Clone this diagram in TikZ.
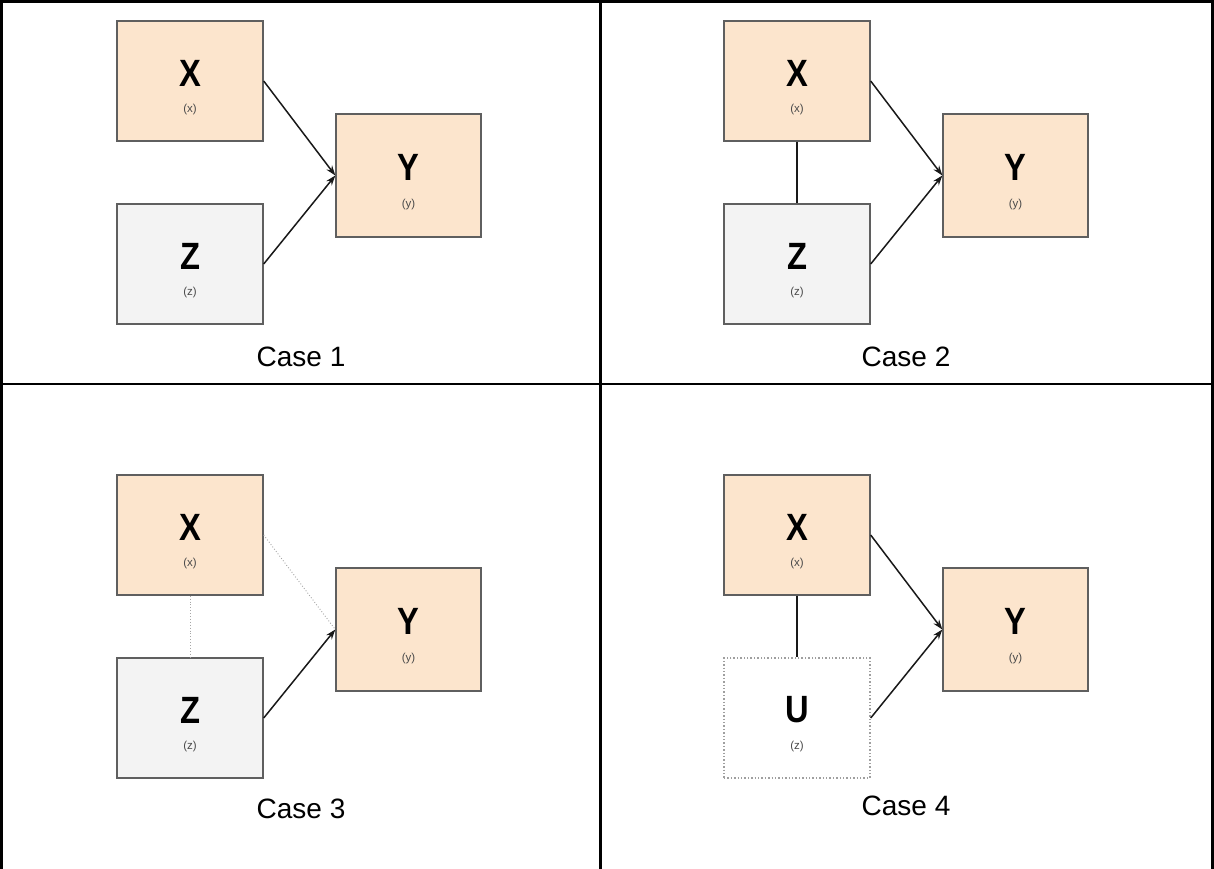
\documentclass[tikz,border=0pt]{standalone}
\usepackage{fontspec}
\setmainfont{Liberation Sans}
\newfontfamily\medfont[FakeStretch=0.86]{Liberation Sans}
\usetikzlibrary{arrows.meta}
\definecolor{peachfill}{HTML}{FCE5CD}
\definecolor{zfill}{HTML}{F3F3F3}
\definecolor{boxborder}{HTML}{5F5F5F}
\definecolor{labelgray}{HTML}{4A4A4A}
\begin{document}
\begin{tikzpicture}[x=1pt,y=-1pt,
  box/.style={draw=boxborder,line width=1.4pt,minimum width=146pt,minimum height=120pt,inner sep=0pt},
  pbox/.style={box,fill=peachfill},
  gbox/.style={box,fill=zfill},
  ubox/.style={box,draw=boxborder!60,dotted,fill=white},
  ybox/.style={pbox,minimum width=145pt,minimum height=123pt},
  big/.style={font=\medfont\bfseries\fontsize{38}{42}\selectfont,inner sep=0pt},
  small/.style={font=\fontsize{11.5}{12}\selectfont,text=labelgray,inner sep=0pt},
  caselabel/.style={font=\fontsize{28}{32}\selectfont,inner sep=0pt},
  arr/.style={-{Stealth[length=10pt,width=7pt]},line width=1.5pt,black!90},
  link/.style={line width=1.5pt,black!90},
  dotlink/.style={line width=0.9pt,gray!70,dotted},
  grid/.style={line width=3pt,black}
]
\useasboundingbox (0,0) rectangle (1214,869);
\fill[white] (0,0) rectangle (1214,869);

% grid
\coordinate (tl) at (0,1.5);
\coordinate (tr) at (1214,1.5);
\coordinate (ml) at (0,384);
\coordinate (mr) at (1214,384);
\coordinate (lt) at (1.5,0);
\coordinate (lb) at (1.5,869);
\coordinate (ct) at (600.5,0);
\coordinate (cb) at (600.5,869);
\coordinate (rt) at (1212.5,0);
\coordinate (rb) at (1212.5,869);
\draw[grid] (tl) -- (tr);
\draw[grid,line width=2.5pt] (ml) -- (mr);
\draw[grid] (lt) -- (lb);
\draw[grid] (ct) -- (cb);
\draw[grid] (rt) -- (rb);

% Case 1
\begin{scope}[shift={(0,0)}]
\node[pbox] (x1) at (190,81) {};
\node[ybox] (y1) at (408.5,175.5) {};
\node[gbox] (z1) at (190,264) {};
\node[big] (x1t) at (190,73) {X};
\node[small] (x1s) at (190,110) {(x)};
\node[big] (y1t) at (408.5,167) {Y};
\node[small] (y1s) at (408.5,205) {(y)};
\node[big] (z1t) at (190,256) {Z};
\node[small] (z1s) at (190,293) {(z)};
\draw[arr] (x1.east) -- (y1.west);
\draw[arr] (z1.east) -- (y1.west);
\node[caselabel] (c1) at (301,357) {Case 1};
\end{scope}

% Case 2
\begin{scope}[shift={(607,0)}]
\node[pbox] (x2) at (190,81) {};
\node[ybox] (y2) at (408.5,175.5) {};
\node[gbox] (z2) at (190,264) {};
\node[big] (x2t) at (190,73) {X};
\node[small] (x2s) at (190,110) {(x)};
\node[big] (y2t) at (408.5,167) {Y};
\node[small] (y2s) at (408.5,205) {(y)};
\node[big] (z2t) at (190,256) {Z};
\node[small] (z2s) at (190,293) {(z)};
\draw[arr] (x2.east) -- (y2.west);
\draw[arr] (z2.east) -- (y2.west);
\draw[link] (x2.south) -- (z2.north);
\node[caselabel] (c2) at (299,357) {Case 2};
\end{scope}

% Case 3
\begin{scope}[shift={(0,454)}]
\node[pbox] (x3) at (190,81) {};
\node[ybox] (y3) at (408.5,175.5) {};
\node[gbox] (z3) at (190,264) {};
\node[big] (x3t) at (190,73) {X};
\node[small] (x3s) at (190,110) {(x)};
\node[big] (y3t) at (408.5,167) {Y};
\node[small] (y3s) at (408.5,205) {(y)};
\node[big] (z3t) at (190,256) {Z};
\node[small] (z3s) at (190,293) {(z)};
\draw[dotlink] (x3.east) -- (y3.west);
\draw[arr] (z3.east) -- (y3.west);
\draw[dotlink] (x3.south) -- (z3.north);
\node[caselabel] (c3) at (301,355) {Case 3};
\end{scope}

% Case 4
\begin{scope}[shift={(607,454)}]
\node[pbox] (x4) at (190,81) {};
\node[ybox] (y4) at (408.5,175.5) {};
\node[ubox] (u4) at (190,264) {};
\node[big] (x4t) at (190,73) {X};
\node[small] (x4s) at (190,110) {(x)};
\node[big] (y4t) at (408.5,167) {Y};
\node[small] (y4s) at (408.5,205) {(y)};
\node[big] (u4t) at (190,256) {U};
\node[small] (u4s) at (190,293) {(z)};
\draw[arr] (x4.east) -- (y4.west);
\draw[arr] (u4.east) -- (y4.west);
\draw[link] (x4.south) -- (u4.north);
\node[caselabel] (c4) at (299,352) {Case 4};
\end{scope}
\end{tikzpicture}
\end{document}
